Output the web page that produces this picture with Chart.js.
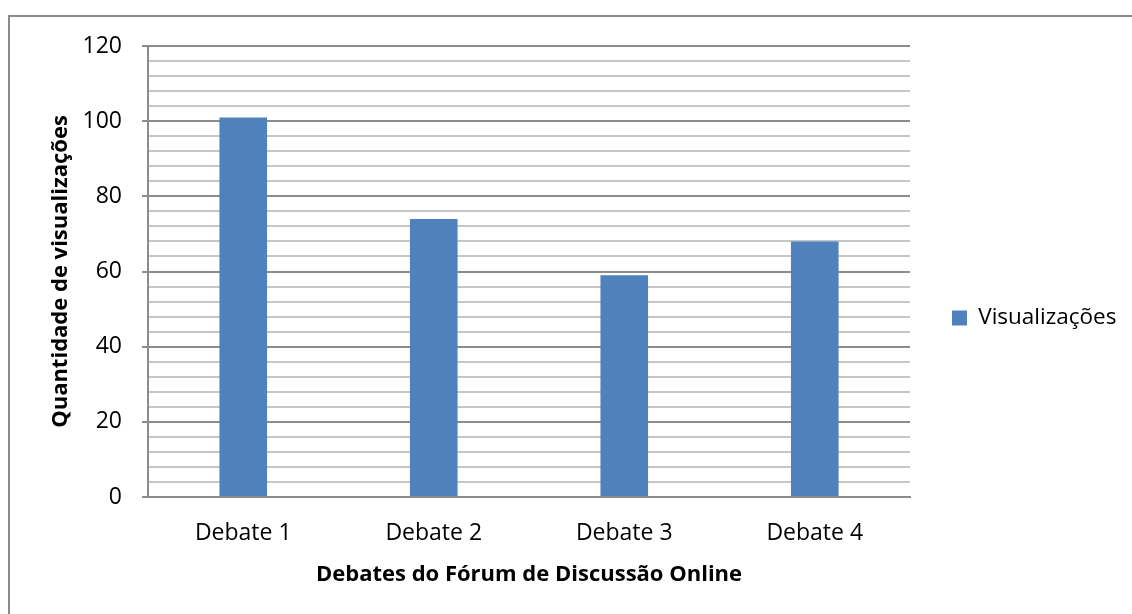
<!DOCTYPE html>
<html>
<head>
<meta charset="utf-8">
<script src="https://cdn.jsdelivr.net/npm/chart.js@4"></script>
<style>
  html, body { margin: 0; padding: 0; background: #fff; overflow: hidden; }
  #wrap { position: relative; width: 1132px; height: 614px; }
  #frame { position: absolute; left: 8px; top: 15px; width: 1200px; height: 700px; border: 2px solid #8c8c8c; }
  canvas { position: absolute; left: 0; top: 0; }
</style>
</head>
<body>
<div id="wrap">
  <div id="frame"></div>
  <canvas id="chart" width="1132" height="614"></canvas>
</div>
<script>
let categories = ['Debate 1', 'Debate 2', 'Debate 3', 'Debate 4'];
let views = [101, 74, 59, 68];
let seriesName = 'Visualizações';
let yTickLabels = [0, 20, 40, 60, 80, 100, 120];

let font = 'Open Sans';

// widen the legend box so the plot ends where the reference does
let legendFit = {
  id: 'legendFit',
  beforeInit(chart) {
    let fit = chart.legend.fit;
    chart.legend.fit = function () {
      fit.bind(chart.legend)();
      this.width = 222;
    };
  }
};

let myChart = new Chart(document.getElementById('chart'), {
  type: 'bar',
  data: {
    labels: categories,
    datasets: [{
      label: seriesName,
      data: views,
      backgroundColor: '#4f81bd',
      borderWidth: 0,
      barPercentage: 1,
      categoryPercentage: 0.25
    }]
  },
  options: {
    responsive: false,
    animation: false,
    layout: { padding: { left: 30, top: 46, right: 0, bottom: 24 } },
    plugins: {
      tooltip: { enabled: false },
      legend: {
        position: 'right',
        align: 'center',
        labels: {
          boxWidth: 15,
          boxHeight: 15,
          padding: 42,
          color: '#000',
          font: { family: font, size: 22.5 }
        }
      }
    },
    scales: {
      x: {
        grid: { display: false },
        border: { display: true, color: '#8c8c8c', width: 2 },
        ticks: { color: '#000', padding: 15, font: { family: font, size: 23 } },
        title: {
          display: true,
          text: 'Debates do Fórum de Discussão Online',
          color: '#000',
          padding: 2,
          font: { family: font, size: 22, weight: 'bold' }
        },
        afterFit: scale => { scale.height = 93; }
      },
      y: {
        min: 0,
        max: 120,
        grid: {
          lineWidth: 2,
          tickLength: 6,
          color: ctx => yTickLabels.includes(ctx.tick.value) ? '#8c8c8c' : '#c6c6c6',
          tickColor: ctx => yTickLabels.includes(ctx.tick.value) ? '#8c8c8c' : 'rgba(0,0,0,0)'
        },
        border: { display: true, color: '#8c8c8c', width: 2 },
        ticks: {
          stepSize: 4,
          autoSkip: false,
          padding: 20,
          color: '#000',
          font: { family: font, size: 23 },
          callback: value => yTickLabels.includes(value) ? String(value) : ''
        },
        title: {
          display: true,
          text: 'Quantidade de visualizações',
          color: '#000',
          padding: { top: 18, bottom: 0 },
          font: { family: font, size: 22, weight: 'bold' }
        },
        afterFit: scale => { scale.width = 118; }
      }
    }
  },
  plugins: [legendFit]
});
</script>
</body>
</html>
